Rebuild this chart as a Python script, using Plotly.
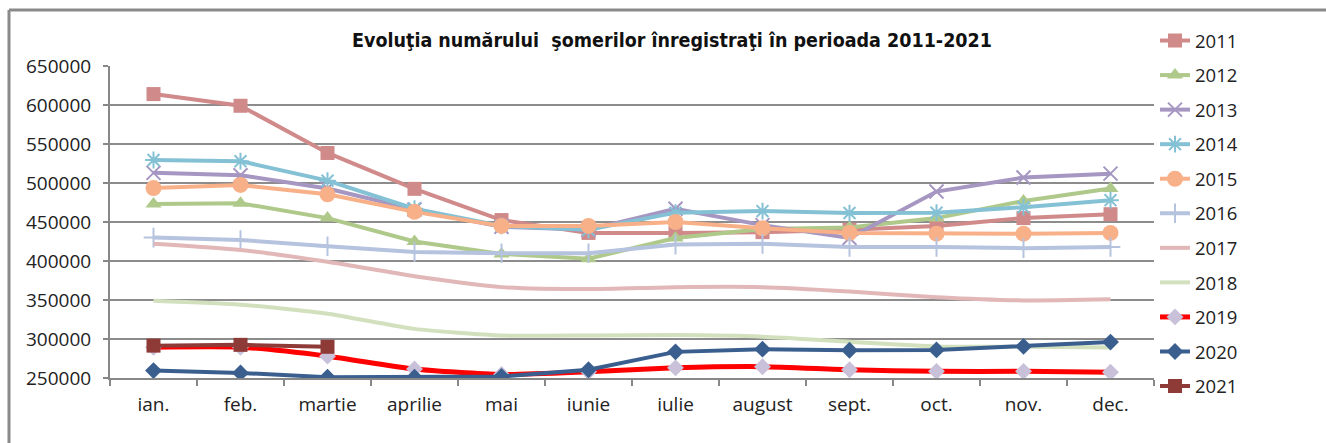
import plotly.graph_objects as go

months = ["ian.", "feb.", "martie", "aprilie", "mai", "iunie", "iulie", "august", "sept.", "oct.", "nov.", "dec."]
y_ticks = [250000, 300000, 350000, 400000, 450000, 500000, 550000, 600000, 650000]

v2011 = [614000, 599000, 538500, 492500, 452500, 436000, 436000, 437000, 440000, 445000, 455000, 460000]
v2012 = [473000, 474000, 455000, 425000, 409000, 403000, 429500, 441000, 443000, 455000, 477000, 493000]
v2013 = [513000, 510000, 493000, 466000, 444000, 440000, 467000, 446000, 429500, 489000, 507000, 512000]
v2014 = [529500, 528000, 503000, 467000, 445000, 440000, 462000, 464000, 461500, 462000, 469000, 478000]
v2015 = [493500, 497500, 485500, 463000, 445000, 445000, 450000, 442000, 436000, 435000, 435000, 436000]
v2016 = [430000, 427000, 419000, 411500, 410000, 410000, 421000, 422000, 418000, 418000, 416500, 418000]
v2017 = [422000, 414000, 399000, 380500, 366500, 364000, 366500, 366500, 361000, 353500, 349500, 351000]
v2018 = [349000, 344000, 332500, 313000, 304500, 304500, 305000, 303000, 296500, 290500, 290000, 289000]
v2019 = [289500, 289500, 278000, 261500, 254500, 258000, 263000, 264500, 260500, 258500, 258500, 257500]
v2020 = [259500, 256500, 251000, 251000, 252000, 260500, 283500, 287000, 285500, 286000, 290500, 296000]
v2021 = [291500, 292500, 290000]

series = [
    ("2011", v2011, "#D08A8A", 4, "square", 14, "#D08A8A", "linear"),
    ("2012", v2012, "#AFC98B", 4, "triangle-up", 14, "#AFC98B", "linear"),
    ("2013", v2013, "#A596C2", 4, "x-thin", 14, "#A596C2", "linear"),
    ("2014", v2014, "#84C1D5", 4, "asterisk", 14, "#84C1D5", "linear"),
    ("2015", v2015, "#F8B088", 4, "circle", 16, "#F8B088", "linear"),
    ("2016", v2016, "#B5C3DF", 4, "cross-thin", 14, "#B5C3DF", "linear"),
    ("2017", v2017, "#E2B7B7", 4, None, 0, None, "spline"),
    ("2018", v2018, "#D2E0BE", 4, None, 0, None, "spline"),
    ("2019", v2019, "#FF0000", 5, "diamond", 13, "#C9C1DA", "spline"),
    ("2020", v2020, "#3A5F8E", 4, "diamond", 13, "#3A5F8E", "linear"),
    ("2021", v2021, "#8E3B38", 4, "square", 14, "#8E3B38", "linear"),
]

fig = go.Figure()
for name, vals, color, lw, sym, msize, mcolor, shape in series:
    if sym is None:
        mode = "lines"
        marker = None
    else:
        mode = "lines+markers"
        if sym in ("x-thin", "asterisk", "cross-thin"):
            marker = dict(symbol=sym, size=msize, color=mcolor,
                          line=dict(color=mcolor, width=2))
        else:
            marker = dict(symbol=sym, size=msize, color=mcolor, line=dict(width=0))
    fig.add_trace(go.Scatter(
        x=months[:len(vals)], y=vals, name=name, mode=mode,
        line=dict(color=color, width=lw, shape=shape, smoothing=0.6),
        marker=marker, legendgroup=name,
    ))

W, H = 1326, 443
L, R, T, B = 110, 172, 66, 65
pw = W - L - R
ph = H - T - B

def px(x):
    return (x - L) / pw

def py(y):
    return 1 - (y - T) / ph

fig.update_layout(
    width=W, height=H,
    margin=dict(l=L, r=R, t=T, b=B, autoexpand=False),
    paper_bgcolor="white", plot_bgcolor="white",
    font=dict(family="Open Sans, Liberation Sans, sans-serif", color="#222222", size=17),
    title=dict(
        text="<b>Evoluţia numărului  şomerilor înregistraţi în perioada 2011-2021</b>",
        x=(672) / W, xanchor="center", y=1 - 40 / H, yanchor="middle",
        font=dict(family="DejaVu Sans Condensed, DejaVu Sans, sans-serif", size=19.5, color="#111111"),
    ),
    showlegend=True,
    legend=dict(
        x=px(1155), xanchor="left", y=py(22), yanchor="top",
        font=dict(size=18.5, color="#222222"),
        tracegroupgap=7.5, bgcolor="rgba(0,0,0,0)",
        itemwidth=30, maxheight=440,
    ),
    xaxis=dict(
        type="category", categoryorder="array", categoryarray=months,
        tickson="boundaries", ticks="outside", ticklen=6, tickcolor="#888888",
        tickwidth=2, ticklabelstandoff=8,
        showgrid=False, showline=True, linecolor="#888888", linewidth=2,
        tickfont=dict(size=19), range=[-0.5, 11.5],
    ),
    yaxis=dict(
        range=[250000, 650000], tickvals=y_ticks,
        ticktext=[str(v) for v in y_ticks],
        showgrid=True, gridcolor="#8C8C8C", gridwidth=2,
        showline=True, linecolor="#888888", linewidth=2,
        ticks="outside", ticklen=5, tickcolor="#888888", tickwidth=2,
        ticklabelstandoff=8,
        tickfont=dict(size=19), zeroline=False,
    ),
    shapes=[
        dict(type="line", xref="paper", yref="paper",
             x0=px(9), x1=px(1326), y0=py(10), y1=py(10),
             line=dict(color="#8A8A8A", width=3)),
        dict(type="line", xref="paper", yref="paper",
             x0=px(9), x1=px(9), y0=py(10), y1=py(443),
             line=dict(color="#8A8A8A", width=3)),
    ],
)

fig.write_html("out.html", config={"displayModeBar": False},
               post_script="document.body.style.margin='0';document.body.style.overflow='hidden';")
